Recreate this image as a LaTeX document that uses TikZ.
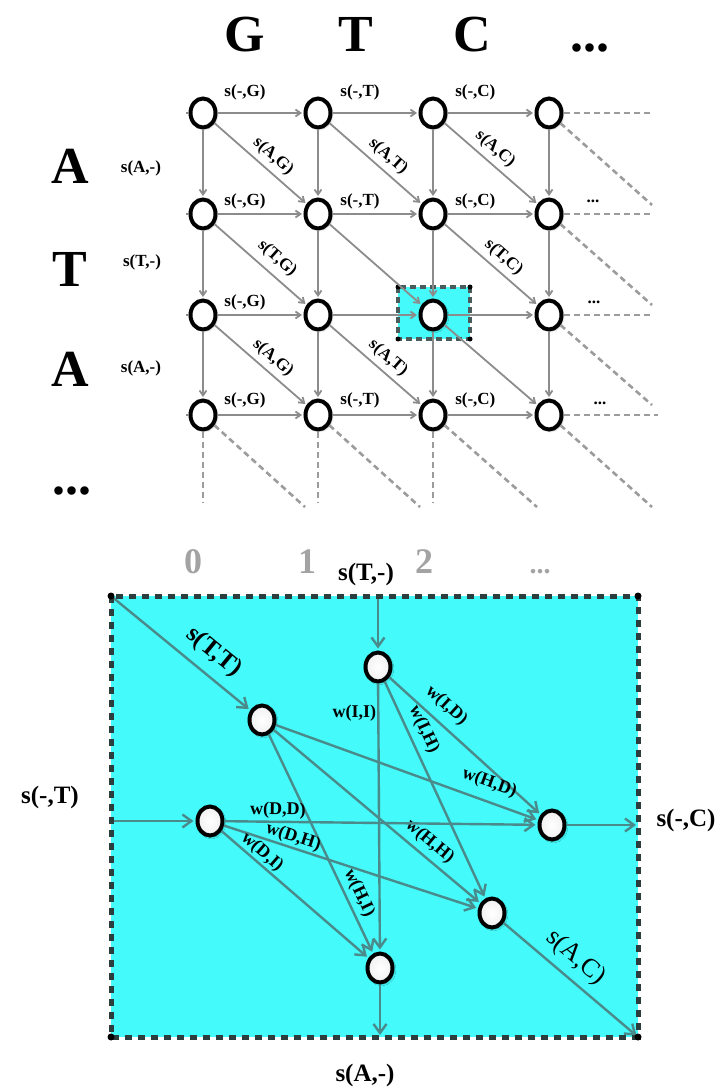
\documentclass[tikz,border=0pt]{standalone}
\usepackage{fontspec}
\setmainfont{Liberation Serif}
\usetikzlibrary{shapes.geometric,arrows.meta,positioning,shadows.blur}
\definecolor{gridgray}{HTML}{8C8C8C}
\definecolor{dashgray}{HTML}{9C9C9C}
\definecolor{cellcyan}{HTML}{44FAFA}
\definecolor{frameink}{HTML}{2B3D3D}
\definecolor{edgeteal}{HTML}{4A8A8A}
\definecolor{numgray}{HTML}{A3A3A3}

\begin{document}
\begin{tikzpicture}[x=1pt,y=-1pt,
  st/.style={ellipse,draw,line width=4pt,fill=white,minimum width=25pt,minimum height=29pt,inner sep=0pt,
    blur shadow={shadow xshift=1.5pt,shadow yshift=-1.5pt,shadow opacity=35}},
  bst/.style={st,inner color=white,outer color=gray!12},
  arr/.style={-{Straight Barb[length=5pt,width=7pt]},gridgray,line width=1.8pt,shorten >=1.5pt},
  dsh/.style={dashgray,line width=2.6pt,dash pattern=on 6pt off 4pt},
  barr/.style={-{Straight Barb[length=9pt,width=13pt]},edgeteal,line width=2.4pt,shorten >=2pt},
  lab/.style={font=\fontsize{17}{20}\selectfont\bfseries,text=black,inner sep=2pt},
  hl/.style={lab,pos=.32,above=2pt},
  dl/.style={lab,sloped,pos=.54,above=3pt},
  wl/.style={font=\fontsize{18}{21}\selectfont\bfseries,text=black,inner sep=2pt},
  big/.style={font=\fontsize{52}{58}\selectfont\bfseries,anchor=base},
  num/.style={font=\fontsize{36}{40}\selectfont\bfseries,text=numgray,anchor=base},
  mid/.style={font=\fontsize{25}{28}\selectfont\bfseries,text=black}]
\useasboundingbox (0,0) rectangle (720,1091);

% sequences
\node[big] (hG) at (245,52) {G};
\node[big] (hT) at (356,52) {T};
\node[big] (hC) at (472,52) {C};
\node[big] (hdots) at (590,52) {...};
\node[big] (vA) at (70,184) {A};
\node[big] (vT) at (70,286) {T};
\node[big] (vA2) at (70,386) {A};
\node[big] (vdots) at (72,494) {...};
\node[lab] (gA) at (141,168) {s(A,-)};
\node[lab] (gT) at (142,262) {s(T,-)};
\node[lab] (gA2) at (141,368) {s(A,-)};

% highlighted cell
\fill[cellcyan] (398,287) rectangle (470,339);
\draw[frameink!85,line width=3.5pt,dash pattern=on 6pt off 4pt] (398,287) rectangle (470,339);
\fill (398,287) circle (2.5pt); \fill (470,287) circle (2.5pt);
\fill (398,339) circle (2.5pt); \fill (470,339) circle (2.5pt);

% grid
\node[st] (a0) at (203,113) {}; \node[st] (a1) at (318,113) {}; \node[st] (a2) at (433,113) {}; \node[st] (a3) at (549,113) {};
\node[st] (b0) at (203,214) {}; \node[st] (b1) at (318,214) {}; \node[st] (b2) at (433,214) {}; \node[st] (b3) at (549,214) {};
\node[st] (c0) at (203,315) {}; \node[st] (c1) at (318,315) {}; \node[st] (c2) at (433,315) {}; \node[st] (c3) at (549,315) {};
\node[st] (d0) at (203,415) {}; \node[st] (d1) at (318,415) {}; \node[st] (d2) at (433,415) {}; \node[st] (d3) at (549,415) {};

\coordinate (a0s) at (186,113); \coordinate (b0s) at (186,214);
\coordinate (c0s) at (186,315); \coordinate (d0s) at (186,415);
\draw[gridgray,line width=1.8pt] (a0s)--(a0); \draw[gridgray,line width=1.8pt] (b0s)--(b0);
\draw[gridgray,line width=1.8pt] (c0s)--(c0); \draw[gridgray,line width=1.8pt] (d0s)--(d0);

\draw[arr] (a0) -- node[hl,above=10pt]{s(-,G)} (a1);
\draw[arr] (a1) -- node[hl,above=10pt]{s(-,T)} (a2);
\draw[arr] (a2) -- node[hl,above=10pt]{s(-,C)} (a3);
\draw[arr] (b0) -- node[hl]{s(-,G)} (b1);
\draw[arr] (b1) -- node[hl]{s(-,T)} (b2);
\draw[arr] (b2) -- node[hl]{s(-,C)} (b3);
\draw[arr] (c0) -- node[hl]{s(-,G)} (c1);
\draw[arr] (c1) -- (c2); \draw[arr] (c2) -- (c3);
\draw[arr] (d0) -- node[hl,above=4pt]{s(-,G)} (d1);
\draw[arr] (d1) -- node[hl,above=4pt]{s(-,T)} (d2);
\draw[arr] (d2) -- node[hl,above=4pt]{s(-,C)} (d3);

\draw[arr] (a0)--(b0); \draw[arr] (a1)--(b1); \draw[arr] (a2)--(b2); \draw[arr] (a3)--(b3);
\draw[arr] (b0)--(c0); \draw[arr] (b1)--(c1); \draw[arr] (b2)--(c2); \draw[arr] (b3)--(c3);
\draw[arr] (c0)--(d0); \draw[arr] (c1)--(d1); \draw[arr] (c2)--(d2); \draw[arr] (c3)--(d3);

\draw[arr] (a0) -- node[dl]{s(A,G)} (b1);
\draw[arr] (a1) -- node[dl]{s(A,T)} (b2);
\draw[arr] (a2) -- node[dl,pos=.45]{s(A,C)} (b3);
\draw[arr] (b0) -- node[dl,pos=.57,above=5pt]{s(T,G)} (c1);
\draw[arr] (b1) -- (c2);
\draw[arr] (b2) -- node[dl]{s(T,C)} (c3);
\draw[arr] (c0) -- node[dl]{s(A,G)} (d1);
\draw[arr] (c1) -- node[dl]{s(A,T)} (d2);
\draw[arr] (c2) -- (d3);

% continuation
\coordinate (a3r) at (650,113); \coordinate (a3d) at (652,205);
\coordinate (b3r) at (650,214); \coordinate (b3d) at (652,305);
\coordinate (c3r) at (650,315); \coordinate (c3d) at (652,405);
\coordinate (d3r) at (658,415); \coordinate (d3d) at (652,507);
\coordinate (d0v) at (203,502); \coordinate (d0d) at (305,507);
\coordinate (d1v) at (318,502); \coordinate (d1d) at (420,507);
\coordinate (d2v) at (433,502); \coordinate (d2d) at (537,507);
\draw[dsh] (a3)--(a3r); \draw[dsh] (a3)--(a3d);
\draw[dsh] (b3)--(b3r); \draw[dsh] (b3)--(b3d);
\draw[dsh] (c3)--(c3r); \draw[dsh] (c3)--(c3d);
\draw[dsh] (d3)--(d3r); \draw[dsh] (d3)--(d3d);
\draw[dsh] (d0)--(d0v); \draw[dsh] (d0)--(d0d);
\draw[dsh] (d1)--(d1v); \draw[dsh] (d1)--(d1d);
\draw[dsh] (d2)--(d2v); \draw[dsh] (d2)--(d2d);
\node[lab] (e1) at (593,201) {...};
\node[lab] (e2) at (594,302) {...};
\node[lab] (e3) at (600,403) {...};

% column index
\node[num] (n0) at (193,573) {0};
\node[num] (n1) at (307,573) {1};
\node[num] (n2) at (424,573) {2};
\node[num,font=\fontsize{28}{30}\selectfont\bfseries] (n3) at (540,573) {...};

% enlarged cell
\coordinate (ftl) at (111,596); \coordinate (fbr) at (638,1037);
\coordinate (ftr) at (638,596); \coordinate (fbl) at (111,1037);
\coordinate (ftop) at (378,596); \coordinate (fleft) at (111,821);
\coordinate (fbot) at (380,1037); \coordinate (fright) at (638,825);
\fill[cellcyan] (ftl) rectangle (fbr);

\node[bst] (ii) at (378,667) {};
\node[bst] (hi) at (262,720) {};
\node[bst] (di) at (210,821) {};
\node[bst] (do) at (552,825) {};
\node[bst] (ho) at (492,913) {};
\node[bst] (io) at (380,968) {};

\draw[barr] (ftop) -- (ii);
\draw[barr] (ftl) -- node[mid,sloped,pos=.64,above=6pt]{s(T,T)} (hi);
\draw[barr] (fleft) -- (di);
\draw[barr] (ii) -- node[wl,left,pos=.11,inner sep=1pt]{w(I,I)} (io);
\draw[barr] (ii) -- node[wl,sloped,pos=.25,above=4pt]{w(I,H)} (ho);
\draw[barr] (ii) -- node[wl,sloped,pos=.30,above=6pt]{w(I,D)} (do);
\draw[barr] (hi) -- node[wl,sloped,pos=.79,above=7pt]{w(H,D)} (do);
\draw[barr] (hi) -- node[wl,sloped,pos=.71,above=3pt]{w(H,H)} (ho);
\draw[barr] (hi) -- node[wl,sloped,pos=.75,above=2pt]{w(H,I)} (io);
\draw[barr] (di) -- node[wl,sloped,pos=.17,above=0pt]{w(D,D)} (do);
\draw[barr] (di) -- node[wl,sloped,pos=.26,above=-1pt]{w(D,H)} (ho);
\draw[barr] (di) -- node[wl,sloped,pos=.23,above=-1pt]{w(D,I)} (io);
\draw[barr] (do) -- (fright);
\draw[barr] (ho) -- node[sloped,pos=.44,above=4pt,text=black,font=\fontsize{26}{30}\selectfont]{s(A,C)} (fbr);
\draw[barr] (io) -- (fbot);

\draw[frameink,line width=5pt,dash pattern=on 7pt off 6pt] (ftl) rectangle (fbr);
\fill (ftl) circle (3.5pt); \fill (ftr) circle (3.5pt);
\fill (fbl) circle (3.5pt); \fill (fbr) circle (3.5pt);

\node[mid] (inT) at (366,574) {s(T,-)};
\node[mid] (inL) at (50,797) {s(-,T)};
\node[mid] (outR) at (686,820) {s(-,C)};
\node[mid] (outB) at (365,1075) {s(A,-)};
\end{tikzpicture}
\end{document}
